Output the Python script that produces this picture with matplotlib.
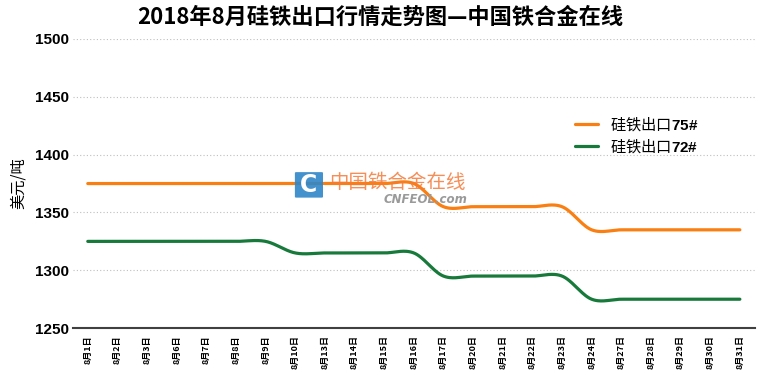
import numpy as np
import matplotlib.pyplot as plt
from matplotlib.patches import FancyBboxPatch

plt.rcParams['font.family'] = ['Noto Sans CJK SC', 'DejaVu Sans']

# data
dates = ['8月1日', '8月2日', '8月3日', '8月6日', '8月7日', '8月8日', '8月9日',
         '8月10日', '8月13日', '8月14日', '8月15日', '8月16日', '8月17日',
         '8月20日', '8月21日', '8月22日', '8月23日', '8月24日', '8月27日',
         '8月28日', '8月29日', '8月30日', '8月31日']
fe75 = [1375, 1375, 1375, 1375, 1375, 1375, 1375, 1375, 1375, 1375, 1375, 1375,
        1355, 1355, 1355, 1355, 1355, 1335, 1335, 1335, 1335, 1335, 1335]
fe72 = [1325, 1325, 1325, 1325, 1325, 1325, 1325, 1315, 1315, 1315, 1315, 1315,
        1295, 1295, 1295, 1295, 1295, 1275, 1275, 1275, 1275, 1275, 1275]
yticks = [1250, 1300, 1350, 1400, 1450, 1500]


def smooth(y, n=30):
    # excel-like smoothed line (catmull-rom through the points)
    y = np.asarray(y, dtype=float)
    x = np.arange(len(y), dtype=float)
    xs, ys = [], []
    for i in range(len(y) - 1):
        i0, i3 = max(i - 1, 0), min(i + 2, len(y) - 1)
        p0, p1, p2, p3 = [np.array([x[k], y[k]]) for k in (i0, i, i + 1, i3)]
        c1 = p1 + (p2 - p0) / 6
        c2 = p2 - (p3 - p1) / 6
        t = np.linspace(0, 1, n)[:, None]
        pts = ((1 - t) ** 3) * p1 + 3 * ((1 - t) ** 2) * t * c1 + 3 * (1 - t) * t ** 2 * c2 + t ** 3 * p2
        xs.extend(pts[:, 0])
        ys.extend(pts[:, 1])
    return np.array(xs), np.array(ys)


fig = plt.figure(figsize=(7.6, 3.75), dpi=100)
ax = fig.add_axes([0.096, 0.125, 0.897, 0.771])

x75, y75 = smooth(fe75)
x72, y72 = smooth(fe72)
ax.plot(x75, y75, color='#FA7F12', lw=2.3, label='硅铁出口$\\mathbf{75\\#}$', solid_capstyle='round')
ax.plot(x72, y72, color='#177A3B', lw=2.3, label='硅铁出口$\\mathbf{72\\#}$', solid_capstyle='round')

ax.set_xlim(-0.5, len(dates) - 0.5)
ax.set_ylim(1250, 1500)
ax.set_yticks(yticks)
ax.set_yticklabels([str(v) for v in yticks], fontsize=11, fontweight='bold',
                   family=['Liberation Sans', 'DejaVu Sans'])
ax.set_xticks(range(len(dates)))
ax.set_xticklabels(dates, rotation=90, fontsize=6.5, fontweight='bold')
ax.tick_params(axis='both', length=0, pad=3)
ax.tick_params(axis='x', pad=5)
for v in yticks[1:]:
    ax.axhline(v, color='#BFBFBF', lw=0.8, ls=(0, (1, 2)), zorder=0)
for s in ['top', 'right', 'left']:
    ax.spines[s].set_visible(False)
ax.spines['bottom'].set_color('#404040')
ax.spines['bottom'].set_linewidth(1.5)
ax.set_ylabel('美元/吨', fontsize=11, labelpad=6)

fig.suptitle('2018年8月硅铁出口行情走势图—中国铁合金在线', x=0.5, y=0.985,
             fontsize=16, fontweight='bold')

plt.rcParams['mathtext.fontset'] = 'custom'
plt.rcParams['mathtext.bf'] = 'Liberation Sans:bold'
leg = ax.legend(loc='upper left', bbox_to_anchor=(0.716, 0.785), frameon=False,
                fontsize=11, handlelength=1.5, labelspacing=0.2, handletextpad=0.8)

# watermark
fig.patches.append(FancyBboxPatch((0.39, 0.475), 0.033, 0.064, boxstyle='round,pad=0.002',
                                  transform=fig.transFigure, facecolor='#2F86C8',
                                  edgecolor='none', alpha=0.9))
fig.text(0.4065, 0.507, 'C', fontsize=17, fontweight='bold', color='white',
         ha='center', va='center', family='DejaVu Sans')
fig.text(0.433, 0.512, '中国铁合金在线', fontsize=14, color='#F47A3A', alpha=0.85,
         ha='left', va='center')
fig.text(0.505, 0.468, 'CNFEOL.com', fontsize=8.5, color='#9A9A9A', style='italic',
         fontweight='bold', ha='left', va='center', family='DejaVu Sans')

fig.savefig('out.png', dpi=100)
